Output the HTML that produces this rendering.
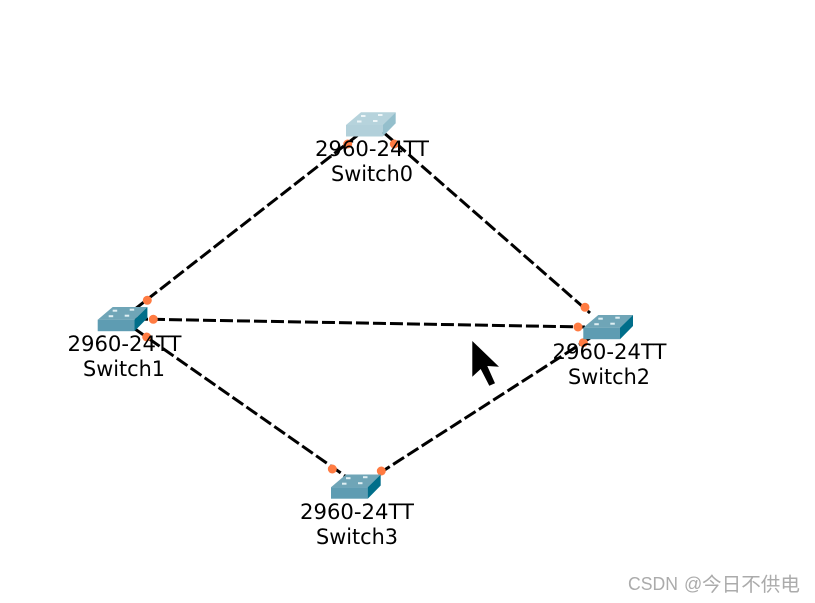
<!DOCTYPE html>
<html>
<head>
<meta charset="utf-8">
<style>
html,body{margin:0;padding:0;background:#fff;width:815px;height:603px;overflow:hidden}
svg{display:block}
.l{font-family:"DejaVu Sans",sans-serif;font-size:21.5px;fill:#000;text-anchor:middle}
.w{font-family:"Liberation Sans","Noto Sans CJK SC",sans-serif;font-size:18px;fill:#ababab}
.c{font-family:"Noto Sans CJK SC",sans-serif;font-size:19.5px;fill:#ababab}
.ln{stroke:#000;stroke-width:3;fill:none;stroke-dasharray:13 4}
.d{fill:#ff7b42}
</style>
</head>
<body>
<svg width="815" height="603" viewBox="0 0 815 603" xmlns="http://www.w3.org/2000/svg">
<defs>
<g id="sw">
  <polygon points="0,0 15,-12.7 49.7,-12.7 36.7,0" fill="#6fa5b7"/>
  <rect x="0" y="0" width="36.7" height="11.5" fill="#5e9cb2"/>
  <polygon points="36.7,0 49.7,-12.7 49.7,-1.7 36.7,11.5" fill="#006e8a"/>
  <g fill="#dfeff3">
    <rect x="11" y="-4.5" width="4.5" height="2"/>
    <rect x="32" y="-11" width="4.5" height="2"/>
    <rect x="15" y="-10" width="4.5" height="2"/>
    <rect x="27" y="-5" width="4.5" height="2"/>
  </g>
</g>
<g id="swl">
  <polygon points="0,0 15,-12.7 49.7,-12.7 36.7,0" fill="#b6d3dc"/>
  <rect x="0" y="0" width="36.7" height="11.5" fill="#b2d0da"/>
  <polygon points="36.7,0 49.7,-12.7 49.7,-1.7 36.7,11.5" fill="#94bfcc"/>
  <g fill="#eef6f8">
    <rect x="11" y="-4.5" width="4.5" height="2"/>
    <rect x="32" y="-11" width="4.5" height="2"/>
    <rect x="15" y="-10" width="4.5" height="2"/>
    <rect x="27" y="-5" width="4.5" height="2"/>
  </g>
</g>
</defs>

<path class="ln" d="M358,135 L135,309"/>
<path class="ln" d="M383,132 L590,313"/>
<path class="ln" d="M135,319 L585,327"/>
<path class="ln" d="M135,329 L348,478"/>
<path class="ln" d="M590,338 L372,478"/>

<circle class="d" cx="347.7" cy="144" r="4.5"/>
<circle class="d" cx="394.3" cy="144" r="4.5"/>
<circle class="d" cx="147.3" cy="300.3" r="4.5"/>
<circle class="d" cx="153.3" cy="319.3" r="4.5"/>
<circle class="d" cx="146.7" cy="337" r="4.5"/>
<circle class="d" cx="585" cy="307.3" r="4.5"/>
<circle class="d" cx="578" cy="327" r="4.5"/>
<circle class="d" cx="583.3" cy="342.7" r="4.5"/>
<circle class="d" cx="332.3" cy="469" r="4.5"/>
<circle class="d" cx="381.3" cy="471" r="4.5"/>

<use href="#swl" x="346" y="125"/>
<use href="#sw" x="97.7" y="319.7"/>
<use href="#sw" x="583.3" y="327.7"/>
<use href="#sw" x="331" y="487.2"/>

<text class="l" x="372" y="156" textLength="114" lengthAdjust="spacingAndGlyphs">2960-24TT</text>
<text class="l" x="372" y="181" textLength="82" lengthAdjust="spacingAndGlyphs">Switch0</text>
<text class="l" x="124.5" y="351" textLength="114" lengthAdjust="spacingAndGlyphs">2960-24TT</text>
<text class="l" x="124" y="376" textLength="82" lengthAdjust="spacingAndGlyphs">Switch1</text>
<text class="l" x="609.5" y="359" textLength="114" lengthAdjust="spacingAndGlyphs">2960-24TT</text>
<text class="l" x="609" y="384" textLength="82" lengthAdjust="spacingAndGlyphs">Switch2</text>
<text class="l" x="357" y="519" textLength="114" lengthAdjust="spacingAndGlyphs">2960-24TT</text>
<text class="l" x="357" y="544" textLength="82" lengthAdjust="spacingAndGlyphs">Switch3</text>

<polygon points="472.3,341 499,366.7 487.3,366 495,383.3 489.3,385.7 480.7,369 472.3,376.7" fill="#000"/>

<text class="w" x="628" y="590" textLength="50" lengthAdjust="spacingAndGlyphs">CSDN</text>
<text class="w" x="684" y="590">@</text>
<text class="c" x="702" y="591" textLength="98" lengthAdjust="spacingAndGlyphs">今日不供电</text>
</svg>
</body>
</html>
